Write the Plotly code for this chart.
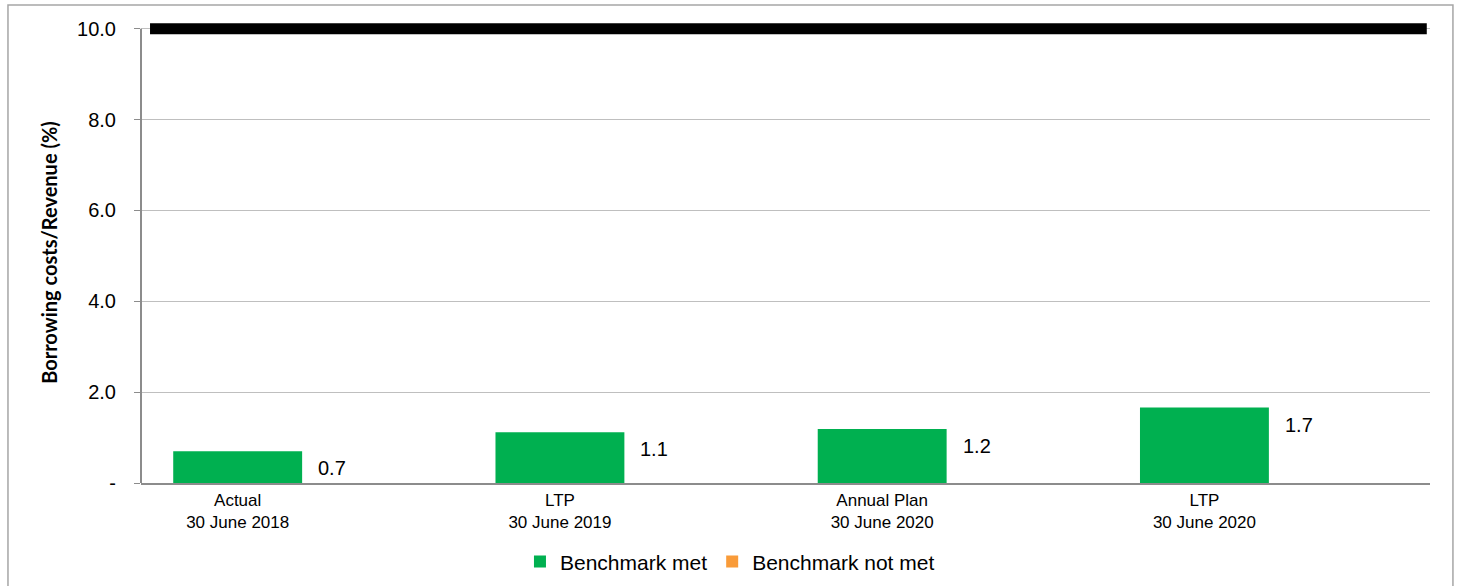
import plotly.graph_objects as go

categories = ["Actual<br>30 June 2018", "LTP<br>30 June 2019", "Annual Plan<br>30 June 2020", "LTP<br>30 June 2020"]
benchmark_met = [0.70, 1.12, 1.19, 1.66]
benchmark_not_met = [None, None, None, None]
benchmark_limit = 10.0
y_ticks = [0, 2, 4, 6, 8, 10]
y_tick_labels = ["-", "2.0", "4.0", "6.0", "8.0", "10.0"]

GREEN = "#00B050"
ORANGE = "#F99B39"
GRID = "#BFBFBF"
AXIS = "#8C8C8C"
FONT = "Liberation Sans, Arial, sans-serif"

idx = list(range(len(categories)))

fig = go.Figure()
fig.add_trace(go.Bar(x=idx, y=benchmark_met, name="Benchmark met",
                     marker=dict(color=GREEN, line=dict(width=0))))
fig.add_trace(go.Bar(x=idx, y=benchmark_not_met, name="Benchmark not met",
                     marker=dict(color=ORANGE, line=dict(width=0))))

x_min, x_max = -0.5, len(categories) - 0.5
fig.add_trace(go.Scatter(x=[x_min + 0.028, x_max - 0.01], y=[benchmark_limit, benchmark_limit],
                         mode="lines", line=dict(color="black", width=11),
                         showlegend=False, hoverinfo="skip"))

# data labels to the right of each green bar
for i, v in zip(idx, benchmark_met):
    fig.add_annotation(x=i, y=v, text=f"{round(v, 1):.1f}", showarrow=False,
                       xanchor="left", yanchor="middle", xshift=14, yshift=-17,
                       font=dict(family=FONT, size=20, color="black"))

# y axis line (0 to 10)
fig.add_shape(type="line", xref="paper", yref="y", x0=0, x1=0, y0=0, y1=benchmark_limit,
              line=dict(color=AXIS, width=2))
# outer border
fig.add_shape(type="rect", xref="paper", yref="paper", x0=-0.1032, x1=1.0178, y0=-0.26, y1=1.0369,
              line=dict(color="#A6A6A6", width=1.5), fillcolor="rgba(0,0,0,0)", layer="below")

fig.update_layout(
    width=1459, height=586,
    margin=dict(l=141, r=29, t=22, b=103, autoexpand=False),
    plot_bgcolor="white", paper_bgcolor="white",
    barmode="group", bargap=0.2, bargroupgap=0,
    showlegend=True,
    legend=dict(orientation="h", x=0.294, xanchor="left", yref="container", y=0.041, yanchor="middle",
                font=dict(family=FONT, size=21, color="black"), traceorder="normal",
                itemclick=False),
    font=dict(family=FONT, color="black"),
)
fig.update_xaxes(range=[x_min, x_max], tickmode="array",
                 tickvals=[i - 0.2 for i in idx], ticktext=categories,
                 showgrid=False, zeroline=False, showline=True, linecolor=AXIS, linewidth=1.5,
                 ticks="", tickfont=dict(family=FONT, size=17, color="black"),
                 ticklabelstandoff=1, automargin=False)
fig.update_yaxes(range=[0, 10.15], tickmode="array", tickvals=y_ticks, ticktext=y_tick_labels,
                 showgrid=True, gridcolor=GRID, gridwidth=1, zeroline=False, showline=False,
                 ticks="outside", ticklen=6, tickcolor=AXIS, tickwidth=1,
                 tickfont=dict(family=FONT, size=20, color="black"), ticklabelstandoff=14,
                 automargin=False,
                 title=dict(text="<b>Borrowing costs/Revenue (%)</b>", standoff=14,
                            font=dict(family="Lato, Open Sans, sans-serif", size=20, color="black")))

fig.write_html("out.html")
